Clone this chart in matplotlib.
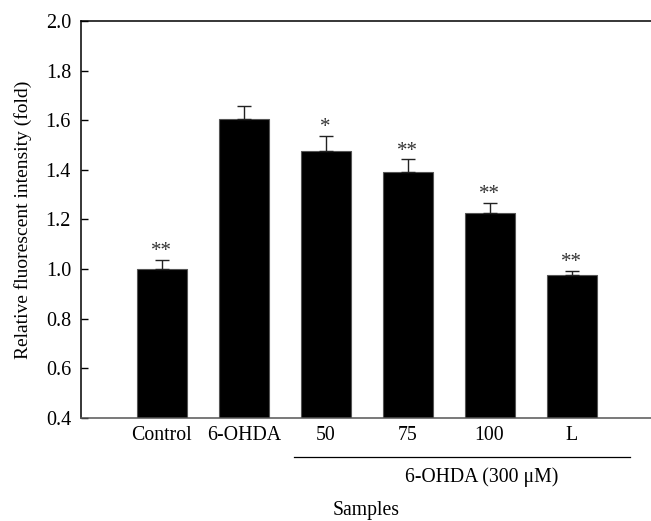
import matplotlib.pyplot as plt
import matplotlib.transforms as mtransforms
import numpy as np

plt.rcParams['font.family'] = ['Liberation Serif', 'DejaVu Serif']

# data
samples = ['Control', '6-OHDA', '50', '75', '100', 'L']
intensity = [1.00, 1.607, 1.475, 1.393, 1.225, 0.975]
sem = [0.038, 0.05, 0.062, 0.05, 0.043, 0.018]
marks = ['**', '', '*', '**', '**', '**']

x = np.arange(1, len(samples) + 1)

fig = plt.figure(figsize=(6.51, 5.21), dpi=100)
ax = fig.add_axes([0.124, 0.1977, 0.876, 0.762])

ax.bar(x, intensity, width=0.61, color='black', edgecolor='#555555', linewidth=0.8, zorder=2)
ax.errorbar(x, intensity, yerr=[np.zeros(len(sem)), sem], fmt='none',
            ecolor='#222222', elinewidth=1.0, capsize=4.8, capthick=1.0, zorder=3)

# significance stars
for xi, v, e, m in zip(x, intensity, sem, marks):
    if m:
        ax.annotate(m, (xi, v + e), xytext=(0, -1), textcoords='offset points',
                    ha='center', va='bottom', fontsize=15, color='#333333')

ax.set_xlim(0.01, 6.97)
ax.set_ylim(0.4, 2.0)
ax.set_yticks(np.arange(0.4, 2.01, 0.2))
ax.set_yticklabels(['%.1f' % t for t in np.arange(0.4, 2.01, 0.2)], fontsize=14.5)
ax.tick_params(axis='y', direction='in', length=5, width=1, pad=7)
ax.set_xticks(x)
ax.set_xticklabels(samples, fontsize=14.3)
ax.tick_params(axis='x', length=0, pad=6)

ax.spines['right'].set_visible(False)
for s in ['left', 'top', 'bottom']:
    ax.spines[s].set_linewidth(1.1)
ax.spines['bottom'].set_color('#555555')

ax.set_ylabel('Relative fluorescent intensity (fold)', fontsize=14, labelpad=10)

# group bracket under the treatment bars
trans = mtransforms.blended_transform_factory(ax.transData, ax.transAxes)
ax.plot([2.61, 6.71], [-0.098, -0.098], color='black', linewidth=0.9,
        transform=trans, clip_on=False)
ax.text(4.9, -0.15, '6-OHDA (300 \u03bcM)', transform=trans, ha='center', va='center',
        fontsize=14.2)
ax.text(3.49, -0.232, 'Samples', transform=trans, ha='center', va='center', fontsize=14.2)

fig.savefig('out.png', dpi=100)
